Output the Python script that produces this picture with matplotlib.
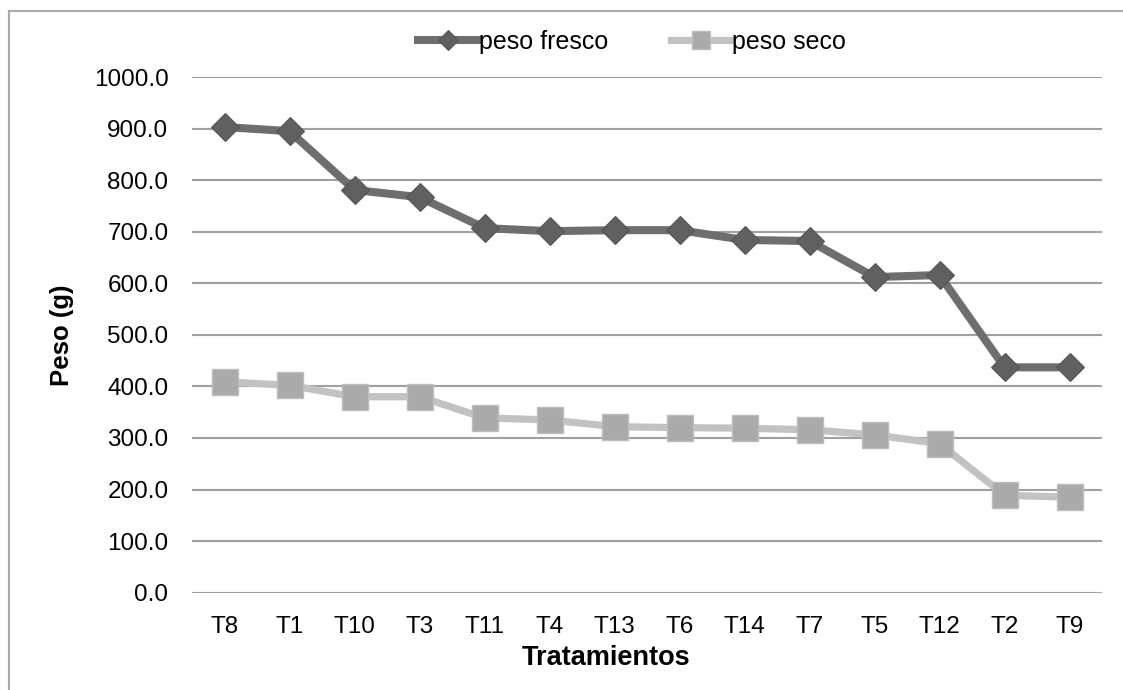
import matplotlib.pyplot as plt
from matplotlib.lines import Line2D

plt.rcParams['font.family'] = ['Liberation Sans', 'DejaVu Sans']

tratamientos = ['T8', 'T1', 'T10', 'T3', 'T11', 'T4', 'T13', 'T6', 'T14', 'T7', 'T5', 'T12', 'T2', 'T9']
peso_fresco = [903, 895, 781, 767, 707, 701, 703, 703, 684, 682, 612, 616, 437, 437]
peso_seco = [409, 402, 380, 380, 339, 335, 322, 320, 319, 316, 306, 289, 189, 185]

W, H = 1123, 690
fig = plt.figure(figsize=(W / 100, H / 100), dpi=100)
ax = fig.add_axes([192 / W, 1 - 592.7 / H, 910 / W, (592.7 - 77) / H])

x = range(len(tratamientos))
ax.plot(x, peso_fresco, color='#6e6e6e', lw=5.8, marker='D', markersize=14,
        markerfacecolor='#606060', markeredgecolor='#555555', markeredgewidth=0.8,
        label='peso fresco', zorder=3)
ax.plot(x, peso_seco, color='#c2c2c2', lw=5.2, marker='s', markersize=19,
        markerfacecolor='#aaaaaa', markeredgecolor='#bdbdbd', markeredgewidth=1.0,
        label='peso seco', zorder=3)

ax.set_xlim(-0.5, len(tratamientos) - 0.5)
ax.set_ylim(0, 1000)
ax.set_yticks(range(0, 1001, 100))
ax.set_yticklabels(['%.1f' % v for v in range(0, 1001, 100)])
ax.set_xticks(list(x))
ax.set_xticklabels(tratamientos)
ax.tick_params(axis='both', length=0, labelsize=17.5)
ax.tick_params(axis='x', pad=17)
ax.tick_params(axis='y', pad=17)
ax.yaxis.grid(True, color='#a0a0a0', lw=1.5)
ax.set_axisbelow(True)
for s in ax.spines.values():
    s.set_visible(False)

fig.text(62 / W, 1 - 335 / H, 'Peso (g)', rotation=90, ha='center', va='center',
         fontsize=18.5, fontweight='bold')
fig.text(606 / W, 1 - 658 / H, 'Tratamientos', ha='center', va='center',
         fontsize=19.5, fontweight='bold')

# outer chart border
fig.add_artist(Line2D([9 / W, 1], [1 - 11 / H, 1 - 11 / H], color='#a8a8a8', lw=1.5))
fig.add_artist(Line2D([9 / W, 9 / W], [0, 1 - 11 / H], color='#a8a8a8', lw=1.5))

fig.legend(loc='center', bbox_to_anchor=(632 / W, 1 - 42 / H), ncol=2, frameon=False,
           fontsize=18, handlelength=2.4, handletextpad=0.05, columnspacing=2.5,
           markerscale=0.7)

fig.savefig('out.png', dpi=100)
